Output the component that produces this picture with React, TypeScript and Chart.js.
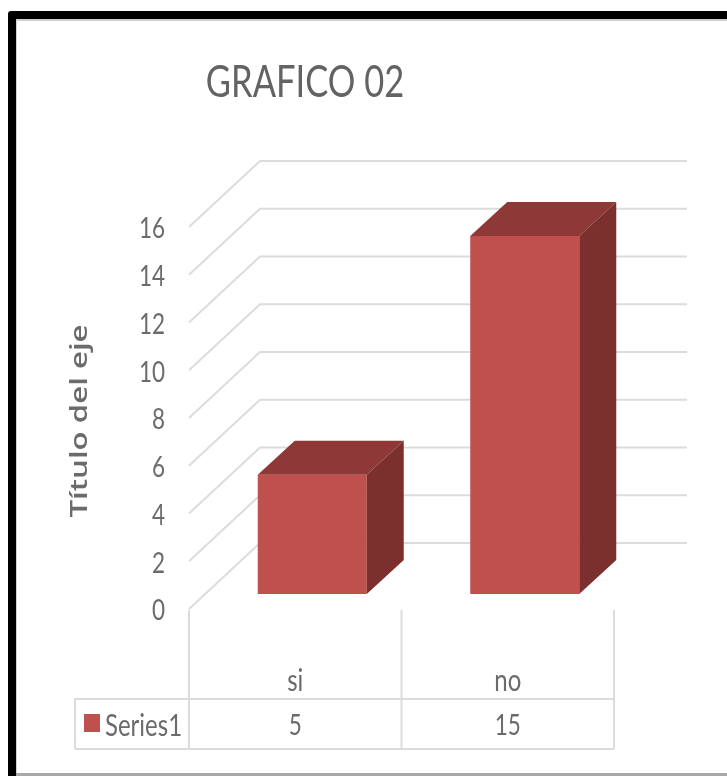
import React, { useEffect, useRef } from "react";
import { Chart, registerables } from "chart.js";

Chart.register(...registerables);

const categories = ["si", "no"];
const seriesName = "Series1";
const seriesValues = [5, 15];
const chartTitle = "GRAFICO 02";
const axisTitle = "Título del eje";

const FRONT = "#C0504D";
const TOP = "#8E3937";
const SIDE = "#7B302E";
const GRID = "#DCDCDC";
const TEXT = "#6B6B6B";

// Offsets of the box depth and of the floor planes relative to the bar plane.
const BAR_DEPTH = { x: 37, y: 34 };
const WALL_FRONT = { x: -17, y: 15 };
const WALL_BACK = { x: 54, y: -51 };
const GRID_RIGHT = 687;

// Text in this chart is tall and condensed, so it is drawn with a vertical stretch.
function stretchedText(
  ctx: CanvasRenderingContext2D,
  text: string,
  x: number,
  y: number,
  font: string,
  color: string,
  align: CanvasTextAlign = "center",
  stretch = 1.3,
) {
  ctx.save();
  ctx.translate(x, y);
  ctx.scale(1, stretch);
  ctx.font = font;
  ctx.fillStyle = color;
  ctx.textAlign = align;
  ctx.textBaseline = "middle";
  ctx.fillText(text, 0, 0);
  ctx.restore();
}

function segment(ctx: CanvasRenderingContext2D, pts: number[][]) {
  ctx.beginPath();
  pts.forEach(([x, y], i) => (i ? ctx.lineTo(x, y) : ctx.moveTo(x, y)));
  ctx.stroke();
}

function polygon(ctx: CanvasRenderingContext2D, pts: number[][], color: string) {
  ctx.fillStyle = color;
  ctx.beginPath();
  pts.forEach(([x, y], i) => (i ? ctx.lineTo(x, y) : ctx.moveTo(x, y)));
  ctx.closePath();
  ctx.fill();
}

const frame3d = {
  id: "frame3d",
  beforeDraw(chart: Chart) {
    const { ctx, width, height } = chart;
    ctx.save();
    ctx.fillStyle = "#FFFFFF";
    ctx.fillRect(0, 0, width, height);
    // Heavy border on the top and left, thin grey edge along the bottom.
    ctx.fillStyle = "#000000";
    ctx.beginPath();
    ctx.roundRect(8, 11, width, height, 3);
    ctx.fill();
    ctx.fillStyle = "#FFFFFF";
    ctx.fillRect(16, 20, width, height);
    ctx.fillStyle = "#CFCFCF";
    ctx.fillRect(16, 19, width, 2);
    ctx.fillRect(16, 20, 1, height);
    ctx.fillStyle = "#A8A8A8";
    ctx.fillRect(16, 773, width, 3);
    ctx.restore();
  },
  beforeDatasetsDraw(chart: Chart) {
    const { ctx, scales } = chart;
    const y = scales.y;
    const x = scales.x;
    ctx.save();
    ctx.strokeStyle = GRID;
    ctx.lineWidth = 2;
    for (const tick of y.ticks) {
      const p = y.getPixelForValue(tick.value);
      const xFront = x.left + WALL_FRONT.x;
      const xBack = x.left + WALL_BACK.x;
      segment(ctx, [
        [xFront, p + WALL_FRONT.y],
        [xBack, p + WALL_BACK.y],
        [GRID_RIGHT, p + WALL_BACK.y],
      ]);
    }
    ctx.restore();
  },
  afterDatasetsDraw(chart: Chart) {
    const { ctx } = chart;
    const meta = chart.getDatasetMeta(0);
    ctx.save();
    meta.data.forEach((bar: any) => {
      const { x, y, width, base } = bar.getProps(["x", "y", "width", "base"], true);
      const l = x - width / 2;
      const r = x + width / 2;
      const dx = BAR_DEPTH.x;
      const dy = BAR_DEPTH.y;
      polygon(ctx, [[l, y], [l + dx, y - dy], [r + dx, y - dy], [r, y]], TOP);
      polygon(ctx, [[r, y], [r + dx, y - dy], [r + dx, base - dy], [r, base]], SIDE);
    });
    ctx.restore();
  },
  afterDraw(chart: Chart) {
    const { ctx, scales } = chart;
    const x = scales.x;
    const y = scales.y;
    const step = x.getPixelForValue(1) - x.getPixelForValue(0);
    const xLeft = x.left + WALL_FRONT.x;
    const xRight = xLeft + categories.length * step;
    const rowTop = 699;
    const rowBottom = 749;
    const axisTop = 610;
    const tableLeft = 75;

    ctx.save();
    ctx.strokeStyle = GRID;
    ctx.lineWidth = 2;
    categories.forEach((_, i) => segment(ctx, [[xLeft + i * step, axisTop], [xLeft + i * step, rowBottom]]));
    segment(ctx, [[xRight, axisTop], [xRight, rowBottom]]);
    segment(ctx, [[tableLeft, rowBottom], [tableLeft, rowTop], [xRight, rowTop]]);
    segment(ctx, [[tableLeft, rowBottom], [xRight, rowBottom]]);

    // Value axis labels sit on the front edge of the side wall.
    for (const tick of y.ticks) {
      const p = y.getPixelForValue(tick.value);
      stretchedText(ctx, String(tick.label), 165, p + WALL_FRONT.y + 2, "22.5px Lato", TEXT, "right");
    }
    // Category labels and the data table row beneath them.
    x.ticks.forEach((tick: any, i: number) => {
      const cx = x.getPixelForTick(i) + WALL_FRONT.x;
      stretchedText(ctx, String(tick.label), cx, 681, "24px Lato", TEXT);
      stretchedText(ctx, String(seriesValues[i]), cx, 726, "22.5px Lato", TEXT);
    });

    ctx.fillStyle = FRONT;
    ctx.fillRect(84, 714, 16, 18);
    stretchedText(ctx, seriesName, 105, 726, "24px Lato", TEXT, "left");

    stretchedText(ctx, chartTitle, 305, 83, "34.5px Lato", "#636363");

    ctx.translate(80, 421);
    ctx.scale(1, 1.3);
    ctx.rotate(-Math.PI / 2);
    ctx.font = '600 24px "Open Sans"';
    ctx.fillStyle = TEXT;
    ctx.textAlign = "center";
    ctx.textBaseline = "middle";
    ctx.fillText(axisTitle, 0, 0);
    ctx.restore();
  },
};

export default function App() {
  const ref = useRef<HTMLCanvasElement>(null);
  useEffect(() => {
    const chart = new Chart(ref.current!, {
      type: "bar",
      data: {
        labels: categories,
        datasets: [
          {
            label: seriesName,
            data: seriesValues,
            backgroundColor: FRONT,
            borderWidth: 0,
            categoryPercentage: 1,
            barPercentage: 0.513,
          },
        ],
      },
      options: {
        animation: false,
        responsive: false,
        devicePixelRatio: 1,
        layout: { padding: { top: 212, right: 96, left: 0, bottom: 0 } },
        plugins: { legend: { display: false }, tooltip: { enabled: false }, title: { display: false } },
        scales: {
          x: {
            grid: { display: false, drawTicks: false },
            border: { display: false },
            afterFit: (s: any) => {
              s.height = 182;
            },
            ticks: { display: false, autoSkip: false },
          },
          y: {
            min: 0,
            max: 16,
            grid: { display: false, drawTicks: false },
            border: { display: false },
            afterFit: (s: any) => {
              s.width = 206;
            },
            ticks: { display: false, stepSize: 2 },
          },
        },
      },
      plugins: [frame3d],
    });
    return () => chart.destroy();
  }, []);
  return (
    <canvas
      ref={ref}
      width={727}
      height={776}
      style={{ position: "absolute", left: 0, top: 0, width: 727, height: 776 }}
    />
  );
}
